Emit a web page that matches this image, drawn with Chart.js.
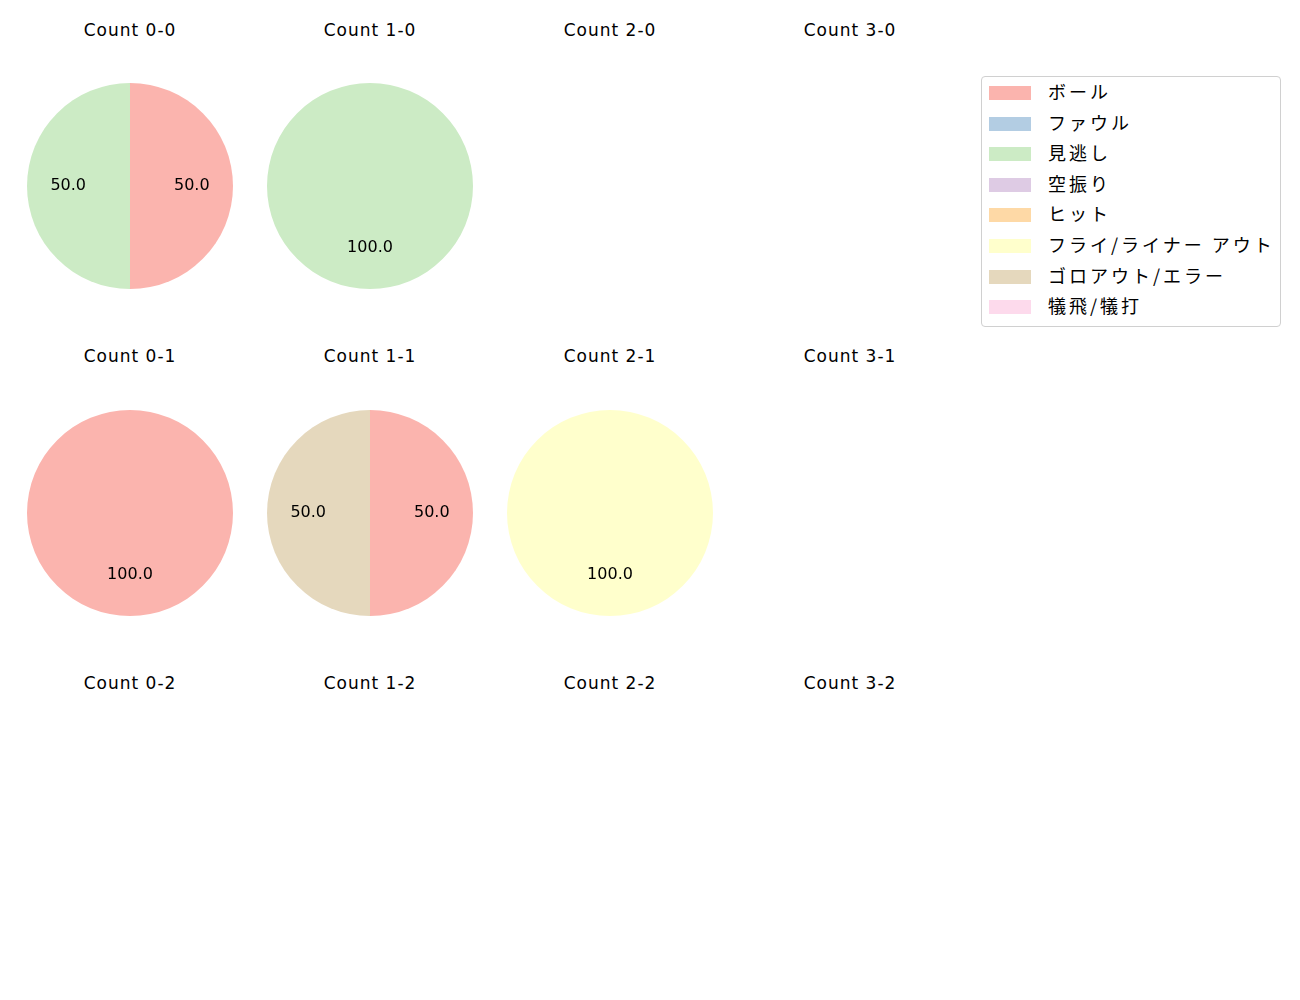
<!DOCTYPE html>
<html>
<head>
<meta charset="utf-8">
<script src="https://cdn.jsdelivr.net/npm/chart.js@4"></script>
<style>
  body { margin: 0; background: #fff; font-family: "Noto Sans CJK JP", sans-serif; }
  #wrap { position: relative; width: 1300px; height: 1000px; }
  .title { position: absolute; width: 240px; text-align: center; font-family: "DejaVu Sans", sans-serif;
           font-size: 17px; letter-spacing: 1px; color: #000; }
  .pie { position: absolute; }
  #legend { position: absolute; left: 981px; top: 76px; width: 300px; height: 251px;
            border: 1px solid #d0d0d0; border-radius: 4px; box-sizing: border-box; }
  .item { position: absolute; left: 7px; height: 30px; font-size: 18px; letter-spacing: 3px; }
  .sw { position: absolute; left: 0; top: 9px; width: 42px; height: 14px; }
  .lt { position: absolute; left: 59px; top: 1px; white-space: nowrap; }
</style>
</head>
<body>
<div id="wrap"><div id="legend"></div></div>
<script>
const categories = ["ボール", "ファウル", "見逃し", "空振り", "ヒット", "フライ/ライナー アウト", "ゴロアウト/エラー", "犠飛/犠打"];
const colors = ["#fbb4ae", "#b3cde3", "#ccebc5", "#decbe4", "#fed9a6", "#ffffcc", "#e5d8bd", "#fddaec"];
const counts = ["0-0", "1-0", "2-0", "3-0", "0-1", "1-1", "2-1", "3-1", "0-2", "1-2", "2-2", "3-2"];
// percent per category for each count (empty = no pitches)
const count00 = [50, 0, 50, 0, 0, 0, 0, 0];
const count10 = [0, 0, 100, 0, 0, 0, 0, 0];
const count01 = [100, 0, 0, 0, 0, 0, 0, 0];
const count11 = [50, 0, 0, 0, 0, 0, 50, 0];
const count21 = [0, 0, 0, 0, 0, 100, 0, 0];
const values = {
  "0-0": count00, "1-0": count10, "0-1": count01, "1-1": count11, "2-1": count21
};

const wrap = document.getElementById("wrap");
const R = 103;

const pctLabels = {
  id: "pctLabels",
  afterDatasetsDraw(chart) {
    const c = chart.ctx;
    const meta = chart.getDatasetMeta(0);
    const data = chart.data.datasets[0].data;
    c.save();
    c.font = "16px 'DejaVu Sans'";
    c.fillStyle = "#000";
    c.textAlign = "center";
    c.textBaseline = "middle";
    meta.data.forEach((arc, i) => {
      if (!data[i]) return;
      const p = arc.getProps(["x", "y", "startAngle", "endAngle", "outerRadius"], true);
      const a = (p.startAngle + p.endAngle) / 2;
      const r = p.outerRadius * 0.6;
      c.fillText(data[i].toFixed(1), p.x + Math.cos(a) * r, p.y + Math.sin(a) * r);
    });
    c.restore();
  }
};

counts.forEach((name, k) => {
  const col = k % 4, row = Math.floor(k / 4);
  const cx = 129.5 + col * 240;
  const cy = 186 + row * 326.5;
  const t = document.createElement("div");
  t.className = "title";
  t.textContent = "Count " + name;
  t.style.left = (cx - 119.5) + "px";
  t.style.top = (cy - 166.5) + "px";
  wrap.appendChild(t);
  if (!values[name]) return;
  const cv = document.createElement("canvas");
  cv.className = "pie";
  cv.width = 2 * R; cv.height = 2 * R;
  cv.style.left = (cx - R) + "px";
  cv.style.top = (cy - R) + "px";
  wrap.appendChild(cv);
  new Chart(cv, {
    type: "pie",
    data: {
      labels: categories,
      datasets: [{ data: values[name], backgroundColor: colors, borderWidth: 0 }]
    },
    options: {
      responsive: false,
      animation: false,
      layout: { padding: 0 },
      plugins: { legend: { display: false }, tooltip: { enabled: false } }
    },
    plugins: [pctLabels]
  });
});

const lg = document.getElementById("legend");
categories.forEach((cat, i) => {
  const it = document.createElement("div");
  it.className = "item";
  it.style.top = (i * 30.6) + "px";
  it.innerHTML = '<div class="sw" style="background:' + colors[i] + '"></div><div class="lt"></div>';
  it.querySelector(".lt").textContent = cat;
  lg.appendChild(it);
});
</script>
</body>
</html>
